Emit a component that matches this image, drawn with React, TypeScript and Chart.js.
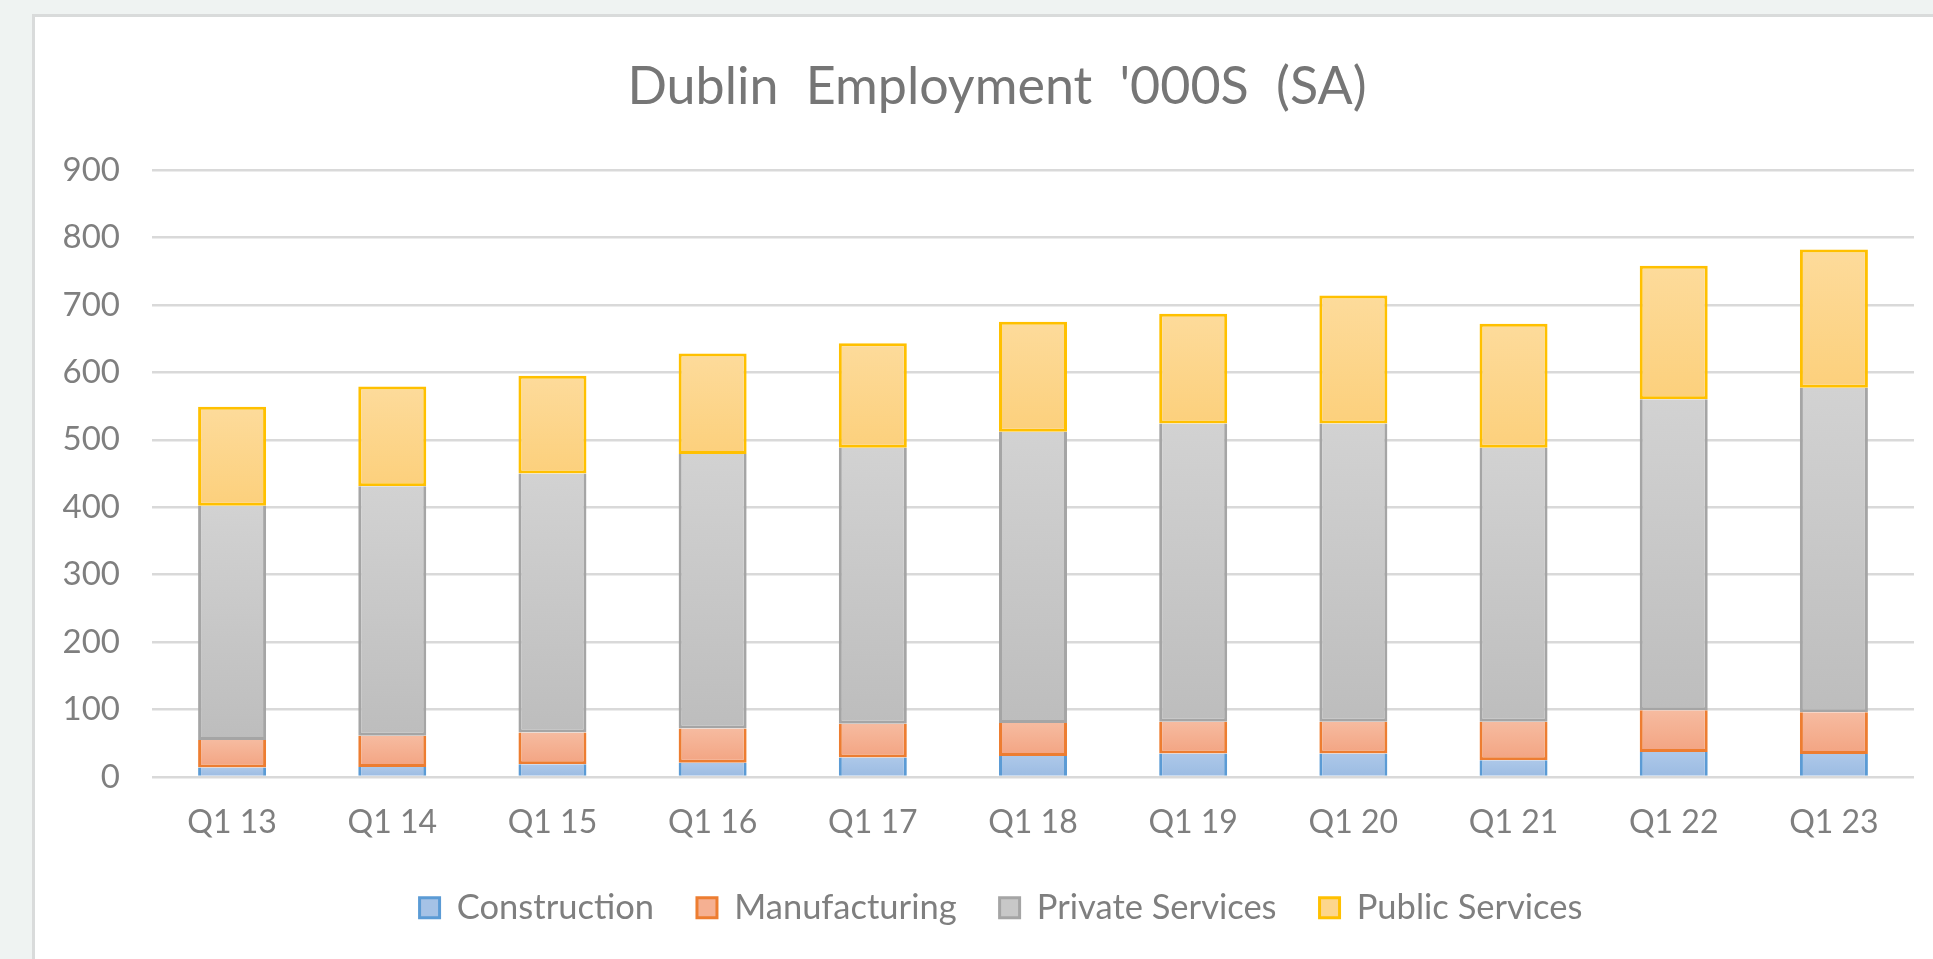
import React, { useEffect, useRef } from 'react';
import { Chart, registerables } from 'chart.js';

Chart.register(...registerables);

const titleText = "Dublin Employment '000S (SA)";
const categories = ['Q1 13', 'Q1 14', 'Q1 15', 'Q1 16', 'Q1 17', 'Q1 18', 'Q1 19', 'Q1 20', 'Q1 21', 'Q1 22', 'Q1 23'];
const seriesNames = ['Construction', 'Manufacturing', 'Private Services', 'Public Services'];
const construction = [14, 15, 19, 21, 29, 31, 35, 35, 25, 37, 34];
const manufacturing = [41, 46, 47, 51, 50, 49, 47, 47, 57, 62, 62];
const privateServices = [347, 370, 384, 407, 409, 432, 442, 442, 406, 461, 481];
const publicServices = [147, 148, 145, 149, 155, 163, 163, 190, 184, 198, 205];
const yMin = 0;
const yMax = 900;
const yStep = 100;

const seriesData = [construction, manufacturing, privateServices, publicServices];
const borderColors = ['#5b9bd5', '#ed7d31', '#a5a5a5', '#ffc000'];
const gradTop = ['#adc8e9', '#f6bba0', '#d2d2d2', '#fddb9b'];
const gradBottom = ['#9bbbe2', '#f3a482', '#bdbdbd', '#fcd07c'];
const legendFill = ['#a5c2e6', '#f5b092', '#c8c8c8', '#fdd68c'];

const FONT = 'Lato, "Open Sans", sans-serif';
const TEXT_COLOR = '#7f7f7f';
const BW = 3;

function stackBase(di: number, i: number) {
  let s = 0;
  for (let k = 0; k < di; k++) s += seriesData[k][i];
  return s;
}

function gradient(di: number) {
  return (c: any) => {
    if (c.type !== 'data') return legendFill[di];
    const chart = c.chart;
    const y = chart.scales && chart.scales.y;
    if (!y) return legendFill[di];
    const base = stackBase(di, c.dataIndex);
    const top = base + seriesData[di][c.dataIndex];
    const y0 = y.getPixelForValue(base);
    const y1 = y.getPixelForValue(top);
    if (!isFinite(y0) || !isFinite(y1) || y0 === y1) return legendFill[di];
    const g = chart.ctx.createLinearGradient(0, y1, 0, y0);
    g.addColorStop(0, gradTop[di]);
    g.addColorStop(1, gradBottom[di]);
    return g;
  };
}

const borderWidths = [
  { top: 0, bottom: 0, left: BW, right: BW },
  { top: 0, bottom: BW, left: BW, right: BW },
  { top: 0, bottom: BW, left: BW, right: BW },
  { top: BW, bottom: BW, left: BW, right: BW },
];

const titlePlugin = {
  id: 'excelTitle',
  afterDraw(chart: any) {
    const ctx = chart.ctx;
    ctx.save();
    ctx.font = `52px ${FONT}`;
    ctx.fillStyle = '#767676';
    ctx.textAlign = 'center';
    ctx.textBaseline = 'alphabetic';
    try { (ctx as any).wordSpacing = '14px'; } catch (e) {}
    ctx.fillText(titleText, 962, 87);
    ctx.restore();
  },
};

export default function App() {
  const ref = useRef<HTMLCanvasElement>(null);

  useEffect(() => {
    let chart: Chart | null = null;
    let cancelled = false;
    const make = () => {
      if (cancelled || !ref.current) return;
      chart = new Chart(ref.current, {
        type: 'bar',
        data: {
          labels: categories,
          datasets: seriesNames.map((name, di) => ({
            label: name,
            data: seriesData[di],
            backgroundColor: gradient(di),
            borderColor: borderColors[di],
            borderWidth: borderWidths[di] as any,
            borderSkipped: false,
            barPercentage: 0.4245,
            categoryPercentage: 1,
            yAxisID: 'y',
          })),
        },
        options: {
          responsive: false,
          animation: false,
          devicePixelRatio: 1,
          layout: { padding: { top: 153, left: 0, right: 0, bottom: 0 } },
          plugins: {
            title: { display: false },
            tooltip: { enabled: false },
            legend: {
              display: true,
              position: 'bottom',
              labels: {
                boxWidth: 20,
                boxHeight: 20,
                padding: 43,
                color: TEXT_COLOR,
                font: { family: FONT, size: 34.5 },
                generateLabels: () =>
                  seriesNames.map((name, i) => ({
                    text: name,
                    fillStyle: legendFill[i],
                    strokeStyle: borderColors[i],
                    lineWidth: BW,
                    hidden: false,
                    datasetIndex: i,
                    fontColor: TEXT_COLOR,
                  })),
              },
            },
          },
          scales: {
            x: {
              stacked: true,
              grid: { display: false, drawTicks: false },
              border: { display: false },
              ticks: {
                padding: 26,
                color: TEXT_COLOR,
                font: { family: FONT, size: 32 },
                maxRotation: 0,
                autoSkip: false,
              },
              afterFit: (s: any) => { s.height = 70.5; },
            },
            y: {
              stacked: true,
              min: yMin,
              max: yMax,
              grid: { color: '#d9d9d9', lineWidth: 2.5, drawTicks: false },
              border: { display: false },
              ticks: {
                stepSize: yStep,
                padding: 32,
                color: TEXT_COLOR,
                font: { family: FONT, size: 33 },
              },
              afterFit: (s: any) => { s.width = 117; },
            },
            y2: {
              position: 'right',
              display: true,
              min: yMin,
              max: yMax,
              grid: { display: false, drawTicks: false },
              border: { display: false },
              ticks: { display: false },
              afterFit: (s: any) => { s.width = 53; },
            },
          },
        } as any,
        plugins: [titlePlugin],
      });
    };
    const fontsApi = (document as any).fonts;
    if (fontsApi && fontsApi.load) {
      Promise.all([fontsApi.load(`33px Lato`), fontsApi.load(`52px Lato`)])
        .catch(() => {})
        .then(make);
    } else {
      make();
    }
    return () => {
      cancelled = true;
      if (chart) chart.destroy();
    };
  }, []);

  return (
    <div style={{ position: 'fixed', left: 0, top: 0, width: 1933, height: 959, overflow: 'hidden', background: '#eff3f2' }}>
      <div style={{ position: 'absolute', left: 32, top: 14, width: 2000, height: 1000, border: '3px solid #d9dbdb', background: '#ffffff' }}>
        <canvas ref={ref} width={1932} height={918} style={{ display: 'block', width: 1932, height: 918 }} />
      </div>
    </div>
  );
}
